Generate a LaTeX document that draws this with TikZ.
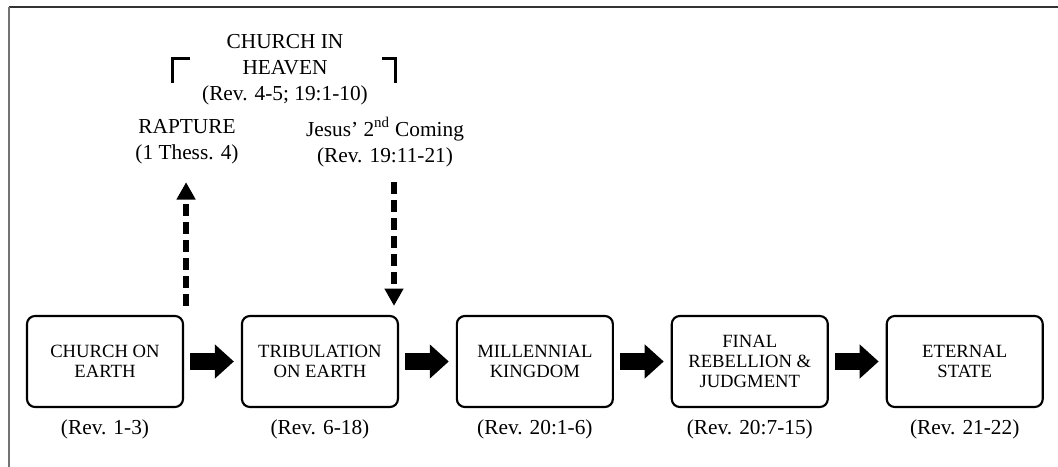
\documentclass[tikz,border=0pt]{standalone}
\usepackage{fontspec}
\setmainfont{Liberation Serif}
\usetikzlibrary{arrows.meta, positioning}

\begin{document}
\begin{tikzpicture}[
    x=0.75pt, y=-0.75pt,
    node distance=42.6pt,
    stage/.style={draw, rounded corners=6pt, line width=1.6pt,
                  minimum width=117pt, minimum height=68.25pt,
                  align=center, inner sep=2pt,
                  font=\fontsize{14}{15}\selectfont},
    ref/.style={inner sep=0pt, align=center,
                font=\fontsize{16}{19.5}\selectfont},
    flow/.style={line width=12.75pt,
                 -{Triangle[length=14.25pt, width=24.75pt]},
                 shorten <=4.5pt, shorten >=5.25pt},
    jump/.style={line width=3.9pt, dash pattern=on 9pt off 4.5pt,
                 -{Triangle[length=13pt, width=13.5pt]}},
    brk/.style={line width=2.25pt}
  ]
  \useasboundingbox (0,0) rectangle (1058,467);

  % frame
  \draw[line width=1.5pt, black!80] (9,7) -- (1058,7);
  \draw[line width=1.5pt, black!55] (9,7) -- (9,467);

  % stages on earth
  \node[stage] (ch1) at (105,361.5) {CHURCH ON\\EARTH};
  \node[stage, right=of ch1]  (trib)  {TRIBULATION\\ON EARTH};
  \node[stage, right=of trib] (mill)  {MILLENNIAL\\KINGDOM};
  \node[stage, right=of mill] (fin)   {FINAL\\REBELLION \&\\JUDGMENT};
  \node[stage, right=of fin]  (etern) {ETERNAL\\STATE};

  \node[ref, below=8.5pt of ch1]   (ch1r)   {(Rev. 1-3)};
  \node[ref, below=8.5pt of trib]  (tribr)  {(Rev. 6-18)};
  \node[ref, below=8.5pt of mill]  (millr)  {(Rev. 20:1-6)};
  \node[ref, below=8.5pt of fin]   (finr)   {(Rev. 20:7-15)};
  \node[ref, below=8.5pt of etern] (eternr) {(Rev. 21-22)};

  \foreach \a/\b in {ch1/trib, trib/mill, mill/fin, fin/etern}
    \draw[flow] (\a) -- (\b);

  % heaven
  \node[ref] (heav) at (285,70) {CHURCH IN\\HEAVEN\\(Rev. 4-5; 19:1-10)};
  \draw[brk] (172,83) -- (172,59) -- (190,59);
  \draw[brk] (382,59) -- (395,59) -- (395,83);

  \node[ref] (rap) at (187,142) {RAPTURE\\(1 Thess. 4)};
  \node[ref] (jes) at (385,142) {Jesus’ 2\textsuperscript{nd} Coming\\(Rev. 19:11-21)};

  \coordinate (upS) at ([shift={(1.5pt,6.75pt)}]ch1.north east);
  \coordinate (dnE) at ([shift={(-3.75pt,6.75pt)}]trib.north east);
  \draw[jump, shorten >=13.2pt] (upS) -- (upS |- rap.south);
  \draw[jump, shorten <=11.7pt] (dnE |- jes.south) -- (dnE);
\end{tikzpicture}
\end{document}
